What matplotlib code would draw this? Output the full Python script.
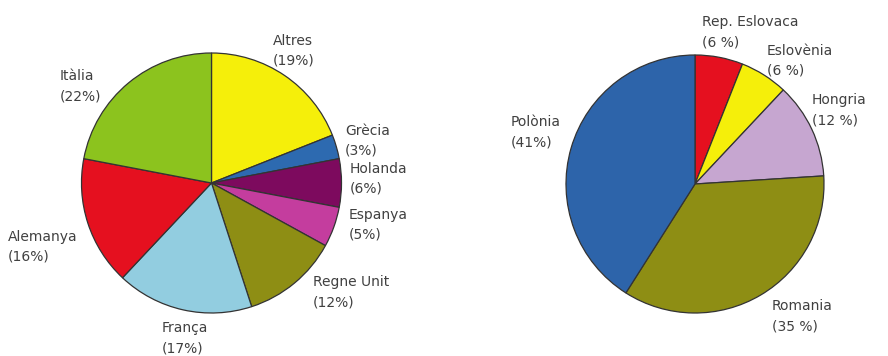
import matplotlib
matplotlib.use("Agg")
import matplotlib.pyplot as plt

# Left pie: clockwise from 12 o'clock
left_names = ["Altres", "Grècia", "Holanda", "Espanya", "Regne Unit",
              "França", "Alemanya", "Itàlia"]
left_values = [19, 3, 6, 5, 12, 17, 16, 22]
left_colors = ["#f5ef0a", "#2d6ab0", "#7d0a5e", "#c43d9e", "#8e8e14",
               "#92cde0", "#e5101f", "#8cc31e"]

# Right pie: clockwise from 12 o'clock
right_names = ["Rep. Eslovaca", "Eslovènia", "Hongria", "Romania", "Polònia"]
right_values = [6, 6, 12, 35, 41]
right_sep = [" ", " ", " ", " ", ""]
right_colors = ["#e5101f", "#f5ef0a", "#c6a6d0", "#8e8e14", "#2d64aa"]

W, H = 888, 356
fig = plt.figure(figsize=(W / 100, H / 100), dpi=100)
ax = fig.add_axes([0, 0, 1, 1])

TXT = "#404040"
FONT = "DejaVu Sans"
FS = 10


def draw_pie(values, colors, cx, cy, r):
    ax.pie(values, colors=colors, startangle=90, counterclock=False,
           center=(cx, H - cy), radius=r,
           wedgeprops=dict(edgecolor="#333333", linewidth=0.9))


def draw_label(name, pct, x, baseline):
    ax.text(x, H - baseline, name, fontsize=FS, family=FONT, color=TXT,
            ha="left", va="baseline")
    ax.text(x, H - baseline - 20, pct, fontsize=FS, family=FONT, color=TXT,
            ha="left", va="baseline")


draw_pie(left_values, left_colors, 211.5, 183, 130)
draw_pie(right_values, right_colors, 695, 184, 129)

# label anchor positions (left edge x, first-line baseline y), in pixels
left_pos = [(273, 45), (345, 135), (350, 173), (349, 219), (313, 286),
            (162, 332), (8, 241), (60, 80)]
right_pos = [(702, 26), (767, 55), (812, 104), (772, 310), (511, 126)]

for n, v, (x, y) in zip(left_names, left_values, left_pos):
    draw_label(n, f"({v}%)", x, y)
for n, v, s, (x, y) in zip(right_names, right_values, right_sep, right_pos):
    draw_label(n, f"({v}{s}%)", x, y)

ax.set_xlim(0, W)
ax.set_ylim(0, H)
ax.set_aspect("auto")
ax.axis("off")

fig.savefig("out.png", dpi=100, facecolor="white")
